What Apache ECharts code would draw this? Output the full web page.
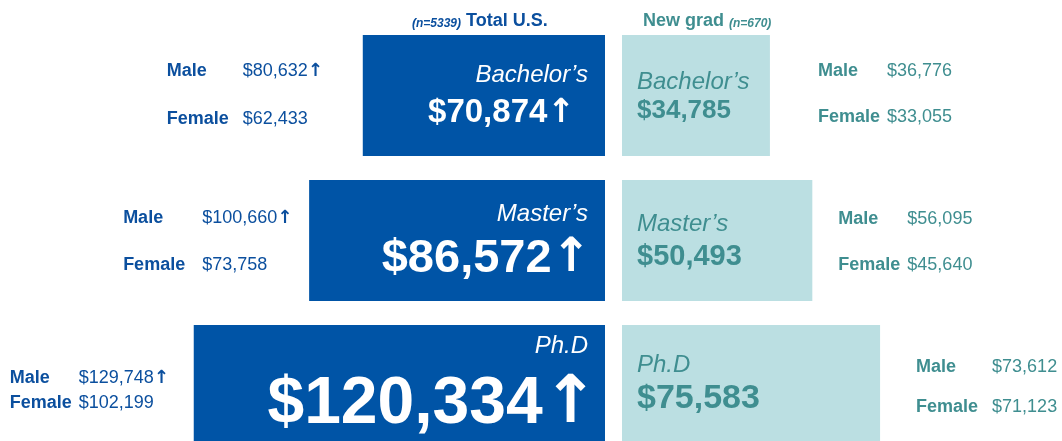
<!DOCTYPE html>
<html>
<head>
<meta charset="utf-8">
<title>Salary by degree</title>
<script src="https://cdn.jsdelivr.net/npm/echarts@6/dist/echarts.min.js"></script>
<style>
  html, body { margin: 0; padding: 0; background: #fff; }
  #chart { width: 1062px; height: 441px; }
</style>
</head>
<body>
<div id="chart"></div>
<script>
// degree levels, top to bottom
var degrees = ['Bachelor\u2019s', 'Master\u2019s', 'Ph.D'];

// Total U.S. (n=5339)
var totalAll = [70874, 86572, 120334];
var maleAll = [80632, 100660, 129748];
var femaleAll = [62433, 73758, 102199];

// New grad (n=670)
var totalNew = [34785, 50493, 75583];
var maleNew = [36776, 56095, 73612];
var femaleNew = [33055, 45640, 71123];

var sampleAll = 5339, sampleNew = 670;

var BLUE = '#0054a6', BLUE_TXT = '#0b4f9e';
var TEAL_BG = '#bbdfe2', TEAL_TXT = '#3f8e90';
var FONT = '"Liberation Sans", Arial, sans-serif';
var ARROW_FONT = '"DejaVu Sans", sans-serif';
var UP = '\u2191';
var NEW_MIN = -20000;

function money(v) { return '$' + v.toLocaleString('en-US'); }

// per-row tweaks: value font size, text offsets from the bar top, side label rows/cols
var leftValueSize = [33, 47, 66];
var leftValueRight = [30, 14, 7];
var leftValueY = [78, 79, 80];
var leftNameY = [40, 34, 21];
var leftRows = [[-24, 24], [-22, 25], [-7, 18]];
var leftCols = [[-196, -120], [-186, -107], [-184, -115]];
var rightValueSize = [26, 29, 34];
var rightNameY = [47, 44, 40];
var rightValueY = [76, 77, 74];
var rightRows = [[-24, 22], [-21, 25], [-18, 22]];
var rightCols = [[48, 117], [26, 95], [36, 112]];

function txt(x, y, text, size, color, weight, style, align) {
  return {
    type: 'text', x: x, y: y,
    style: {
      text: text, fill: color, fontSize: size, fontFamily: FONT,
      fontWeight: weight || 'normal', fontStyle: style || 'normal',
      align: align || 'left', verticalAlign: 'middle'
    }
  };
}

// value followed by a heavy up arrow
function upText(x, y, val, size, color, weight, align) {
  return {
    type: 'text', x: x, y: y,
    style: {
      text: '{v|' + val + '}{a|' + UP + '}',
      rich: {
        v: { fontSize: size, fontFamily: FONT, fontWeight: weight, fill: color },
        a: { fontSize: size, fontFamily: ARROW_FONT, fontWeight: 'bold', fill: color }
      },
      fill: color, align: align, verticalAlign: 'middle'
    }
  };
}

function sideRow(xName, xVal, y, name, val, arrow, color) {
  return [
    txt(xName, y, name, 18, color, 'bold'),
    arrow ? upText(xVal, y, val, 18, color, 'normal', 'left') : txt(xVal, y, val, 18, color)
  ];
}

function renderAll(params, api) {
  var i = params.dataIndex;
  var inner = api.coord([0, api.value(1)]);
  var outer = api.coord([api.value(0), api.value(1)]);
  var h = api.size([0, 1])[1] * 0.834;
  var top = outer[1] - h / 2;
  var right = inner[0], left = outer[0];
  var kids = [
    { type: 'rect', shape: { x: left, y: top, width: right - left, height: h }, style: { fill: BLUE } },
    txt(right - 17, top + leftNameY[i], degrees[i], 24, '#fff', 'normal', 'italic', 'right'),
    upText(right - leftValueRight[i], top + leftValueY[i], money(api.value(0)), leftValueSize[i], '#fff', 'bold', 'right')
  ];
  var c = outer[1];
  kids = kids.concat(
    sideRow(left + leftCols[i][0], left + leftCols[i][1], c + leftRows[i][0], 'Male', money(maleAll[i]), true, BLUE_TXT),
    sideRow(left + leftCols[i][0], left + leftCols[i][1], c + leftRows[i][1], 'Female', money(femaleAll[i]), false, BLUE_TXT)
  );
  return { type: 'group', children: kids };
}

function renderNew(params, api) {
  var i = params.dataIndex;
  var start = api.coord([NEW_MIN, api.value(1)]);
  var end = api.coord([api.value(0), api.value(1)]);
  var h = api.size([0, 1])[1] * 0.834;
  var top = end[1] - h / 2;
  var left = start[0], right = end[0];
  var kids = [
    { type: 'rect', shape: { x: left, y: top, width: right - left, height: h }, style: { fill: TEAL_BG } },
    txt(left + 15, top + rightNameY[i], degrees[i], 24, TEAL_TXT, 'normal', 'italic'),
    txt(left + 15, top + rightValueY[i], money(api.value(0)), rightValueSize[i], TEAL_TXT, 'bold')
  ];
  var c = end[1];
  kids = kids.concat(
    sideRow(right + rightCols[i][0], right + rightCols[i][1], c + rightRows[i][0], 'Male', money(maleNew[i]), false, TEAL_TXT),
    sideRow(right + rightCols[i][0], right + rightCols[i][1], c + rightRows[i][1], 'Female', money(femaleNew[i]), false, TEAL_TXT)
  );
  return { type: 'group', children: kids };
}

var chart = echarts.init(document.getElementById('chart'));

var option = {
  animation: false,
  title: [
    {
      left: 407, top: 7,
      text: '{n|(n=' + sampleAll + ')} {t|Total U.S.}',
      textStyle: {
        rich: {
          n: { fontSize: 12, fontWeight: 'bold', fontStyle: 'italic', fontFamily: FONT, color: BLUE_TXT, verticalAlign: 'bottom' },
          t: { fontSize: 18, fontWeight: 'bold', fontFamily: FONT, color: BLUE_TXT }
        }
      }
    },
    {
      left: 638, top: 7,
      text: '{t|New grad} {n|(n=' + sampleNew + ')}',
      textStyle: {
        rich: {
          n: { fontSize: 12, fontWeight: 'bold', fontStyle: 'italic', fontFamily: FONT, color: TEAL_TXT, verticalAlign: 'bottom' },
          t: { fontSize: 18, fontWeight: 'bold', fontFamily: FONT, color: TEAL_TXT }
        }
      }
    }
  ],
  grid: [
    { left: 24, width: 581, top: 23, height: 435, outerBoundsMode: 'none' },
    { left: 622, width: 270, top: 23, height: 435, outerBoundsMode: 'none' }
  ],
  xAxis: [
    { gridIndex: 0, type: 'value', inverse: true, min: 0, max: 170000, show: false },
    { gridIndex: 1, type: 'value', min: NEW_MIN, max: 80000, show: false }
  ],
  yAxis: [
    { gridIndex: 0, type: 'category', data: degrees, inverse: true, show: false },
    { gridIndex: 1, type: 'category', data: degrees, inverse: true, show: false }
  ],
  series: [
    {
      name: 'Total U.S.',
      type: 'custom',
      xAxisIndex: 0, yAxisIndex: 0,
      encode: { x: 0, y: 1 },
      data: totalAll.map(function (v, i) { return [v, i]; }),
      renderItem: renderAll
    },
    {
      name: 'New grad',
      type: 'custom',
      xAxisIndex: 1, yAxisIndex: 1,
      encode: { x: 0, y: 1 },
      data: totalNew.map(function (v, i) { return [v, i]; }),
      renderItem: renderNew
    }
  ]
};

chart.setOption(option);
</script>
</body>
</html>
